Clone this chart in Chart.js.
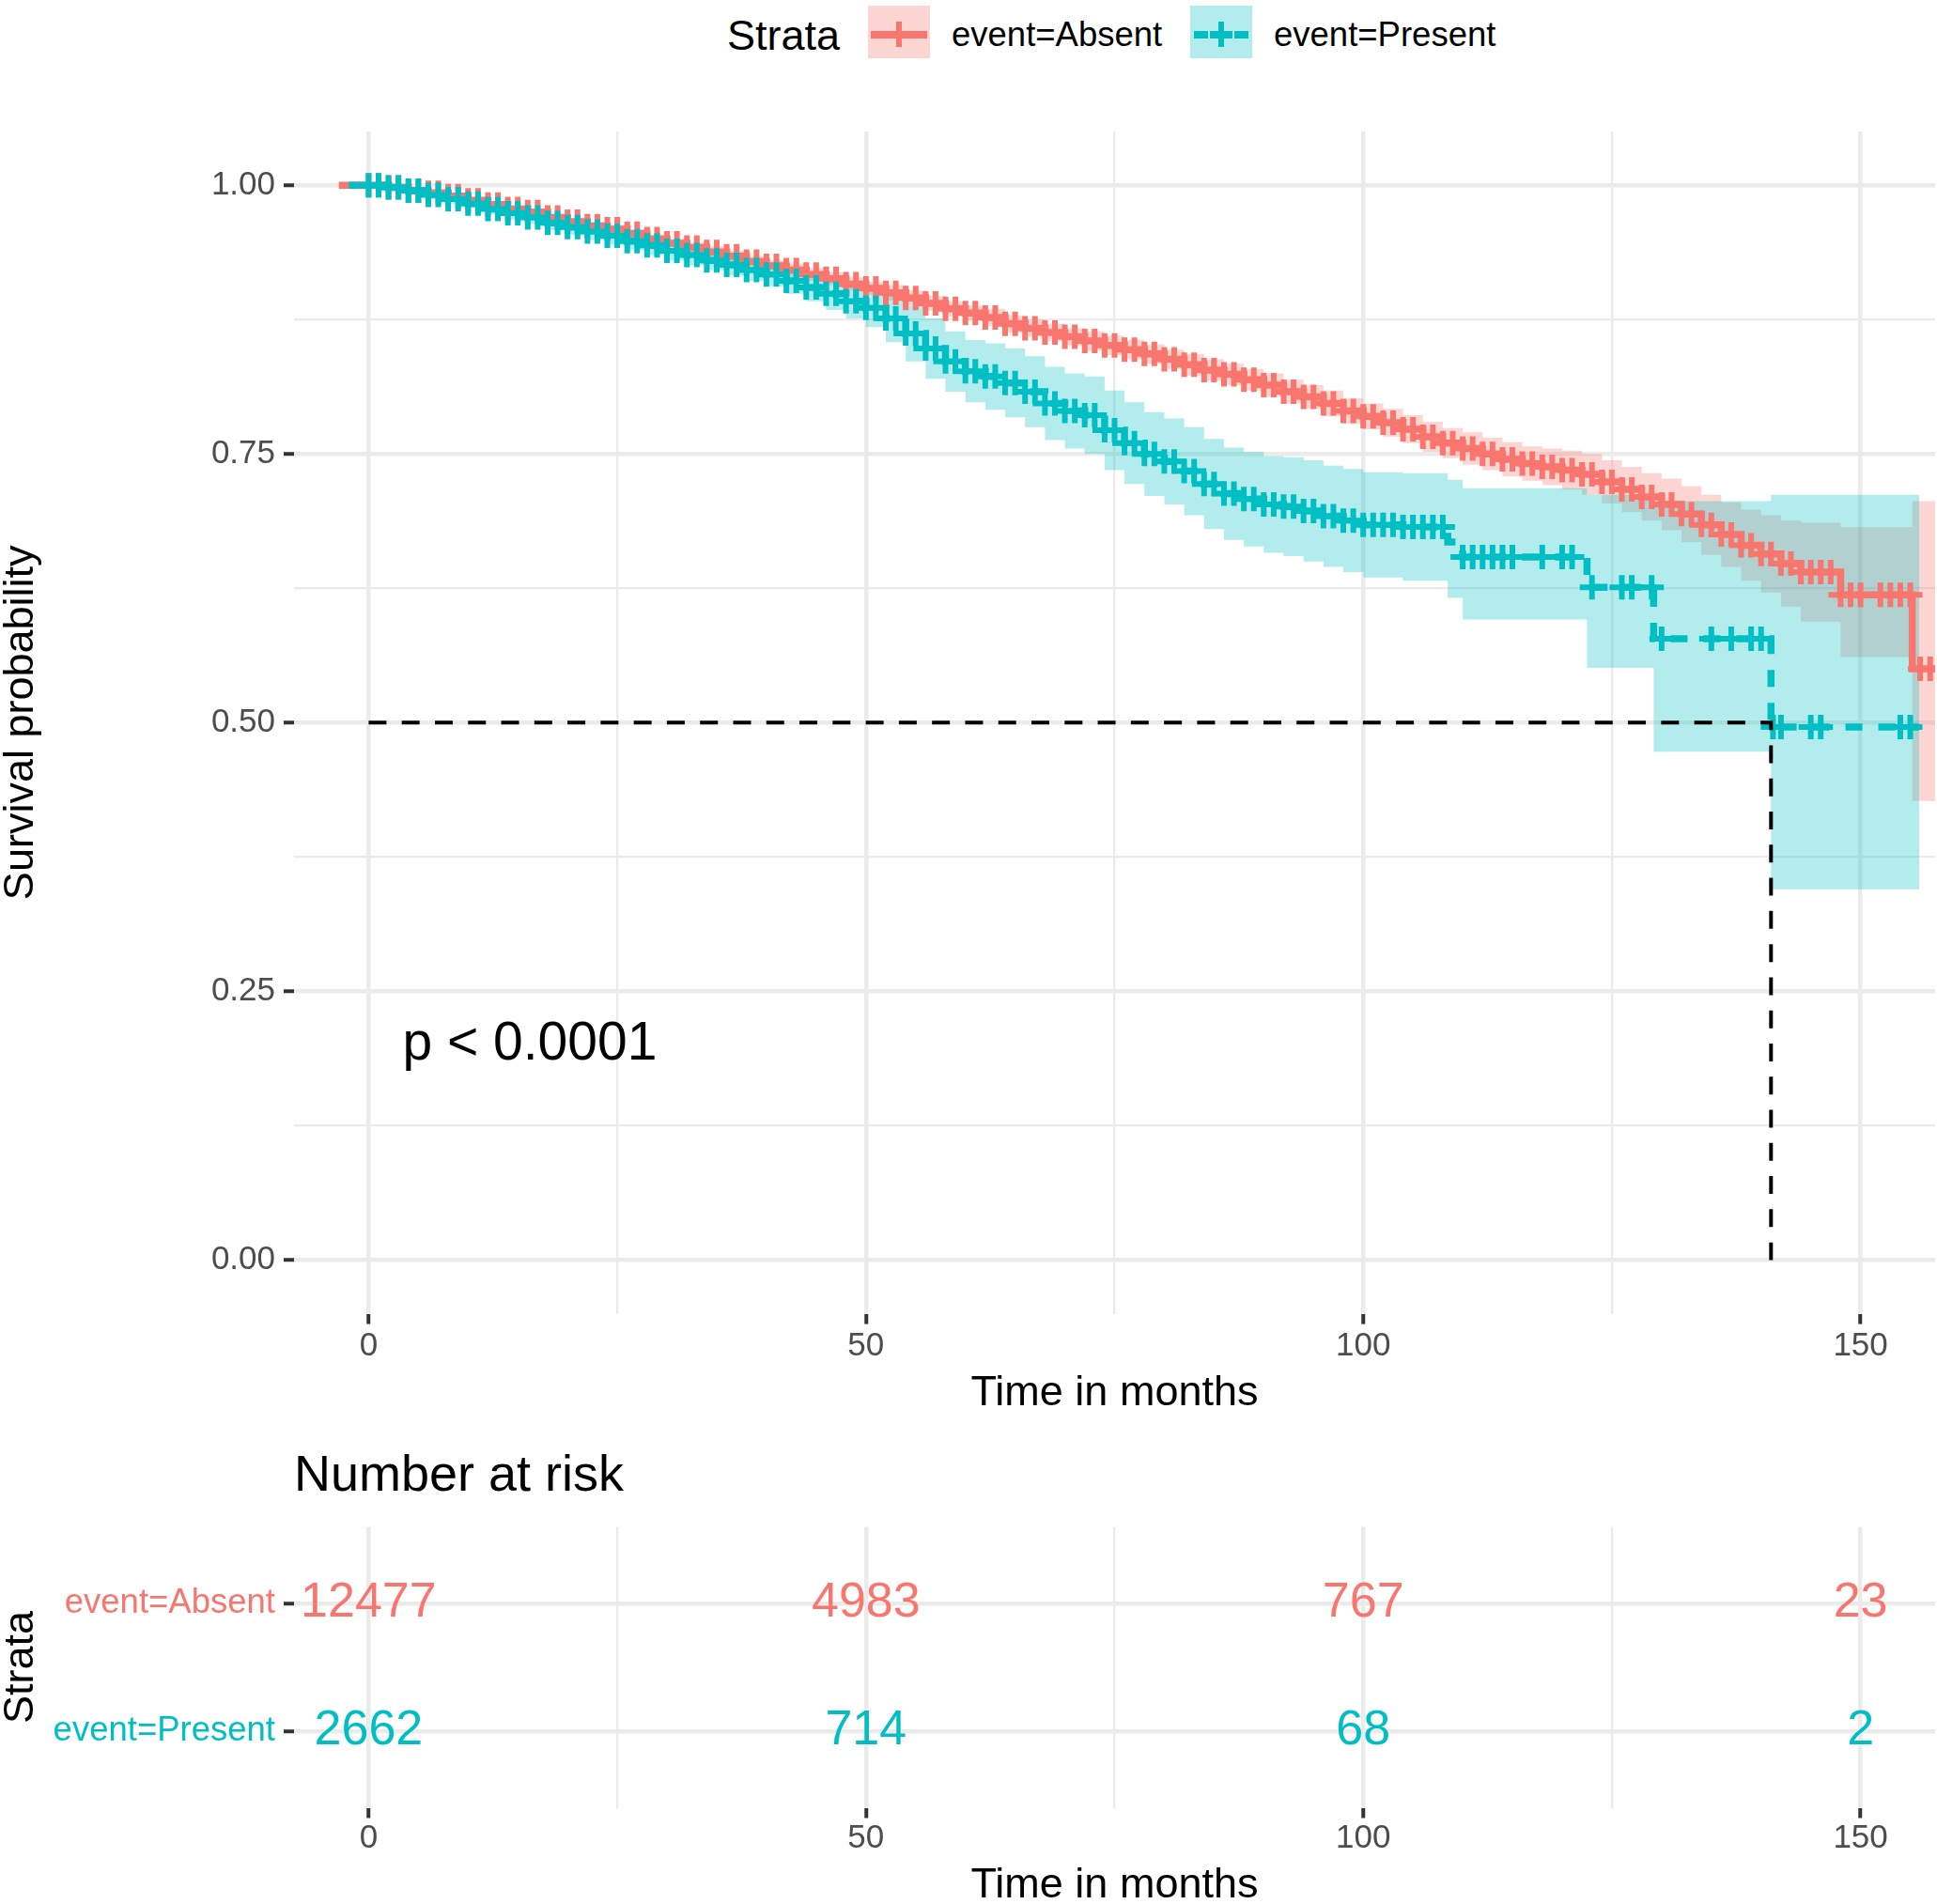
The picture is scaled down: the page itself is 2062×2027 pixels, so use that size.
<!DOCTYPE html>
<html>
<head>
<meta charset="utf-8">
<script src="https://cdn.jsdelivr.net/npm/chart.js@4.4.0/dist/chart.umd.min.js"></script>
<style>
  body { margin: 0; background: #fff; width: 2062px; height: 2027px; overflow: hidden; position: relative;
         font-family: "Liberation Sans", Arial, sans-serif; }
  #survCanvas { position: absolute; left: 0; top: 0; }
  #riskCanvas { position: absolute; left: 0; top: 1506px; }
  .lg { position: absolute; white-space: nowrap; color: #000; }
  .key { position: absolute; top: 6px; width: 66px; height: 56px; }
  .key div { position: absolute; }
</style>
</head>
<body>
<div class="lg" style="left:774px; top:15px; font-size:45px; line-height:45px;">Strata</div>
<div class="key" style="left:924px; background:rgba(248,118,109,0.3);">
  <div style="left:3px; width:60px; top:27px; height:8px; background:#F8766D;"></div>
  <div style="left:30px; width:6px; top:17px; height:27px; background:#F8766D;"></div>
</div>
<div class="lg" style="left:1013px; top:19px; font-size:36.5px; line-height:36.5px;">event=Absent</div>
<div class="key" style="left:1267px; background:rgba(0,191,196,0.3);">
  <div style="left:4px; width:15px; top:27px; height:8px; background:#00BFC4;"></div>
  <div style="left:21px; width:24px; top:27px; height:8px; background:#00BFC4;"></div>
  <div style="left:30px; width:6px; top:17px; height:27px; background:#00BFC4;"></div>
  <div style="left:47px; width:15px; top:27px; height:8px; background:#00BFC4;"></div>
</div>
<div class="lg" style="left:1356px; top:19px; font-size:36.5px; line-height:36.5px;">event=Present</div>

<canvas id="survCanvas" width="2062" height="1506"></canvas>
<canvas id="riskCanvas" width="2062" height="524"></canvas>

<script>
// ---- data ----
const absentTime = [-3, 0, 2, 4, 6, 8, 10, 12, 14, 16, 18, 20, 22, 24, 26, 28, 30, 32, 34, 36, 38, 40,
  42, 44, 46, 48, 50, 52, 54, 56, 58, 60, 62, 64, 66, 68, 70, 72, 74, 76, 78, 80, 82, 84, 86, 88, 90,
  92, 94, 96, 98, 100, 102, 104, 106, 108, 110, 112, 114, 116, 118, 120, 122, 124, 126, 128, 130, 132,
  134, 136, 138, 140, 142, 144, 148, 155.2, 157.5]
const absentSurv = [1, 1, 0.998, 0.995, 0.993, 0.990, 0.986, 0.982, 0.978, 0.975, 0.970, 0.966, 0.962,
  0.959, 0.955, 0.950, 0.946, 0.942, 0.938, 0.934, 0.929, 0.925, 0.921, 0.917, 0.913, 0.908, 0.904,
  0.900, 0.895, 0.890, 0.885, 0.881, 0.877, 0.871, 0.867, 0.863, 0.859, 0.855, 0.851, 0.847, 0.843,
  0.838, 0.833, 0.828, 0.824, 0.819, 0.814, 0.808, 0.803, 0.797, 0.790, 0.785, 0.779, 0.773, 0.766,
  0.760, 0.755, 0.750, 0.745, 0.741, 0.738, 0.735, 0.731, 0.724, 0.717, 0.710, 0.703, 0.694, 0.684,
  0.675, 0.665, 0.657, 0.648, 0.640, 0.619, 0.550, 0.550]
const absentLower = [1, 0.999, 0.996, 0.993, 0.991, 0.988, 0.984, 0.979, 0.975, 0.972, 0.967, 0.963,
  0.958, 0.955, 0.951, 0.946, 0.942, 0.937, 0.933, 0.929, 0.924, 0.920, 0.915, 0.911, 0.907, 0.902,
  0.898, 0.893, 0.888, 0.883, 0.878, 0.874, 0.869, 0.863, 0.859, 0.855, 0.851, 0.846, 0.842, 0.838,
  0.834, 0.829, 0.823, 0.818, 0.814, 0.809, 0.803, 0.797, 0.792, 0.785, 0.778, 0.773, 0.766, 0.760,
  0.752, 0.746, 0.740, 0.735, 0.729, 0.725, 0.721, 0.717, 0.712, 0.704, 0.696, 0.688, 0.679, 0.668,
  0.656, 0.645, 0.632, 0.621, 0.608, 0.594, 0.561, 0.427, 0.427]
const absentUpper = [1, 1, 1, 0.997, 0.995, 0.992, 0.988, 0.985, 0.981, 0.978, 0.973, 0.969, 0.966,
  0.963, 0.959, 0.954, 0.950, 0.947, 0.943, 0.939, 0.934, 0.930, 0.927, 0.923, 0.919, 0.914, 0.910,
  0.907, 0.902, 0.897, 0.892, 0.888, 0.885, 0.879, 0.875, 0.871, 0.867, 0.864, 0.860, 0.856, 0.852,
  0.847, 0.843, 0.838, 0.834, 0.829, 0.825, 0.819, 0.814, 0.809, 0.802, 0.797, 0.792, 0.786, 0.780,
  0.774, 0.770, 0.765, 0.761, 0.757, 0.755, 0.753, 0.750, 0.744, 0.738, 0.732, 0.727, 0.720, 0.712,
  0.705, 0.698, 0.693, 0.688, 0.686, 0.682, 0.706, 0.706]
const absentCensor = [
  0, 1, 2, 3, 4, 5, 6, 7, 8, 9, 10, 11, 12, 13, 14, 15, 16, 17, 18, 19, 20, 21, 22, 23, 24, 25, 26, 27, 28, 29,
  30, 31, 32, 33, 34, 35, 36, 37, 38, 39, 40, 41, 42, 43, 44, 45, 46, 47, 48, 49, 50, 51, 52, 53, 54, 55, 56, 57, 58, 59,
  60, 61, 62, 63, 64, 65, 66, 67, 68, 69, 70, 71, 72, 73, 74, 75, 76, 77, 78, 79, 80, 81, 82, 83, 84, 85, 86, 87, 88, 89,
  90, 91, 92, 93, 94, 95, 96, 97, 98, 99, 100, 101, 102, 103, 104, 105, 106, 107, 108, 109, 110, 111, 112, 113, 114, 115,
  116, 117, 118, 119, 120, 121, 122, 123, 124, 125, 126, 127, 128, 129, 130, 131, 132, 133, 134, 135, 136, 137, 138, 139,
  140, 141, 142, 143, 144, 145, 146, 147, 148, 149, 150, 152, 153, 154, 155, 156, 157]

const presentTime = [-2, 0, 2, 4, 6, 8, 10, 12, 14, 16, 18, 20, 22, 24, 26, 28, 30, 32, 34, 36, 38, 40,
  42, 44, 46, 48, 50, 52, 54, 56, 58, 60, 62, 64, 66, 68, 70, 72, 74, 76, 78, 80, 82, 84, 86, 88, 90,
  92, 94, 96, 98, 100, 104, 108.5, 110, 122.5, 129.2, 141, 155.9]
const presentSurv = [1, 1, 0.998, 0.995, 0.991, 0.987, 0.983, 0.978, 0.974, 0.970, 0.965, 0.961, 0.957,
  0.953, 0.948, 0.944, 0.939, 0.935, 0.930, 0.926, 0.921, 0.917, 0.911, 0.905, 0.899, 0.892, 0.886,
  0.876, 0.862, 0.848, 0.836, 0.827, 0.822, 0.816, 0.808, 0.797, 0.790, 0.786, 0.772, 0.760, 0.750,
  0.743, 0.734, 0.722, 0.713, 0.708, 0.703, 0.701, 0.697, 0.692, 0.688, 0.684, 0.682, 0.668, 0.654,
  0.626, 0.578, 0.496, 0.496]
const presentLower = [1, 0.999, 0.996, 0.992, 0.987, 0.983, 0.979, 0.973, 0.968, 0.964, 0.958, 0.954,
  0.949, 0.945, 0.940, 0.935, 0.930, 0.926, 0.921, 0.916, 0.911, 0.906, 0.899, 0.892, 0.884, 0.876,
  0.868, 0.854, 0.836, 0.820, 0.808, 0.798, 0.791, 0.784, 0.775, 0.763, 0.755, 0.750, 0.735, 0.722,
  0.711, 0.703, 0.693, 0.680, 0.670, 0.664, 0.658, 0.655, 0.650, 0.645, 0.640, 0.635, 0.632, 0.616,
  0.596, 0.551, 0.473, 0.345, 0.345]
const presentUpper = [1, 1, 1, 0.998, 0.995, 0.991, 0.987, 0.983, 0.980, 0.976, 0.972, 0.968, 0.965,
  0.961, 0.956, 0.953, 0.948, 0.944, 0.939, 0.936, 0.931, 0.928, 0.923, 0.918, 0.914, 0.908, 0.904,
  0.898, 0.888, 0.876, 0.864, 0.856, 0.853, 0.848, 0.841, 0.831, 0.825, 0.822, 0.809, 0.798, 0.789,
  0.783, 0.775, 0.764, 0.756, 0.752, 0.748, 0.747, 0.744, 0.739, 0.736, 0.733, 0.732, 0.726, 0.718,
  0.712, 0.706, 0.712, 0.712]
const presentCensor = [
  0, 1, 2, 3, 4, 5, 6, 7, 8, 9, 10, 11, 12, 13, 14, 15, 16, 17, 18, 19, 20, 21, 22, 23, 24, 25, 26, 27, 28, 29,
  30, 31, 32, 33, 34, 35, 36, 37, 38, 39, 40, 41, 42, 43, 44, 45, 46, 47, 48, 49, 50, 51, 52, 53, 54, 55, 56, 57, 58, 59,
  60, 61, 62, 63, 64, 65, 66, 67, 68, 69, 70, 71, 72, 73, 74, 75, 76, 77, 78, 79, 80, 81, 82, 83, 84, 85, 86, 87, 88, 89,
  90, 91, 92, 93, 94, 95, 96, 97, 98, 99, 100, 101, 102, 103, 104, 105, 106, 107, 108,
  110, 111, 112, 113, 114, 115, 118, 120, 121, 123, 126, 127, 129, 130, 135, 137, 139, 140, 141.2, 142, 145, 146, 154, 155]

const medianTime = 141
const medianSurv = 0.5
const pValueText = 'p < 0.0001'

const strata = ['event=Absent', 'event=Present']
const riskTimes = [0, 50, 100, 150]
const riskAbsent = [12477, 4983, 767, 23]
const riskPresent = [2662, 714, 68, 2]

const xMajor = [0, 50, 100, 150]
const xMinor = [25, 75, 125]
const yMajor = [0, 0.25, 0.5, 0.75, 1]
const yMinor = [0.125, 0.375, 0.625, 0.875]

// ---- styling ----
const RED = '#F8766D'
const CYAN = '#00BFC4'
const strataColors = [RED, CYAN]
const FONT = '"Liberation Sans", Arial, sans-serif'
Chart.defaults.font.family = FONT

function pts(ts, vs) {
    return ts.map((t, i) => ({x: t, y: vs[i]}))
}

// value of a step curve at time t
function survAt(ts, vs, t) {
    let v = vs[0]
    for (let i = 0; i < ts.length; i++) {
        if (ts[i] <= t) v = vs[i]
    }
    return v
}

function isMinor(list, c) {
    return c.tick && list.includes(c.tick.value)
}

function xScale(height, pad) {
    return {
        type: 'linear', min: -7.5, max: 157.5, bounds: 'data',
        border: {display: false},
        afterBuildTicks: s => { s.ticks = xMajor.concat(xMinor).sort((a, b) => a - b).map(v => ({value: v})) },
        afterFit: s => { s.height = height },
        ticks: {
            autoSkip: false, maxRotation: 0, padding: pad, color: '#4D4D4D', font: {size: 35},
            callback: v => xMajor.includes(v) ? String(v) : ''
        },
        grid: {
            color: '#EBEBEB',
            lineWidth: c => isMinor(xMinor, c) ? 2.3 : 4.5,
            tickColor: c => isMinor(xMinor, c) ? 'rgba(0,0,0,0)' : '#333333',
            tickLength: 11, tickWidth: 4
        },
        title: {display: true, text: 'Time in months', color: '#000', font: {size: 45, lineHeight: 1}, padding: 0}
    }
}

const pValuePlugin = {
    id: 'pvalue',
    afterDatasetsDraw(chart) {
        const {ctx, scales} = chart
        ctx.save()
        ctx.font = '57px ' + FONT
        ctx.fillStyle = '#000'
        ctx.textAlign = 'left'
        ctx.textBaseline = 'middle'
        ctx.fillText(pValueText, scales.x.getPixelForValue(3.4), scales.y.getPixelForValue(0.2))
        ctx.restore()
    }
}

new Chart(document.getElementById('survCanvas'), {
    type: 'line',
    data: {
        datasets: [
            {data: pts(absentTime, absentUpper), stepped: true, borderWidth: 0, borderColor: 'transparent',
                pointRadius: 0, fill: false, order: 60},
            {data: pts(absentTime, absentLower), stepped: true, borderWidth: 0, borderColor: 'transparent',
                pointRadius: 0, fill: '-1', backgroundColor: 'rgba(248,118,109,0.3)', order: 60},
            {data: pts(presentTime, presentUpper), stepped: true, borderWidth: 0, borderColor: 'transparent',
                pointRadius: 0, fill: false, order: 50},
            {data: pts(presentTime, presentLower), stepped: true, borderWidth: 0, borderColor: 'transparent',
                pointRadius: 0, fill: '-1', backgroundColor: 'rgba(0,191,196,0.3)', order: 50},
            {data: pts(absentTime, absentSurv), stepped: true, borderColor: RED, borderWidth: 7.5,
                pointRadius: 0, fill: false, order: 40},
            {data: pts(presentTime, presentSurv), stepped: true, borderColor: CYAN, borderWidth: 7.5,
                borderDash: [18, 17], pointRadius: 0, fill: false, order: 30},
            {type: 'scatter', data: absentCensor.map(t => ({x: t, y: survAt(absentTime, absentSurv, t)})),
                pointStyle: 'cross', pointRadius: 13, borderColor: RED, pointBorderColor: RED,
                borderWidth: 6, pointBorderWidth: 6, order: 20},
            {type: 'scatter', data: presentCensor.map(t => ({x: t, y: survAt(presentTime, presentSurv, t)})),
                pointStyle: 'cross', pointRadius: 13, borderColor: CYAN, pointBorderColor: CYAN,
                borderWidth: 6, pointBorderWidth: 6, order: 10},
            {data: [{x: 0, y: medianSurv}, {x: medianTime, y: medianSurv}, {x: medianTime, y: 0}],
                borderColor: '#000', borderWidth: 4, borderDash: [19, 16.28], pointRadius: 0, fill: false, order: 5}
        ]
    },
    options: {
        responsive: false,
        animation: false,
        events: [],
        layout: {autoPadding: false, padding: {top: 140, right: 2, left: 0, bottom: 0}},
        plugins: {legend: {display: false}, tooltip: {enabled: false}},
        scales: {
            x: xScale(107.4, 2.5),
            y: {
                type: 'linear', min: -0.05, max: 1.05, bounds: 'data',
                border: {display: false},
                afterBuildTicks: s => { s.ticks = yMajor.concat(yMinor).sort((a, b) => a - b).map(v => ({value: v})) },
                afterFit: s => { s.width = 313 },
                ticks: {
                    autoSkip: false, padding: 9, color: '#4D4D4D', font: {size: 35},
                    callback: v => yMajor.includes(v) ? v.toFixed(2) : ''
                },
                grid: {
                    color: '#EBEBEB',
                    lineWidth: c => isMinor(yMinor, c) ? 2.3 : 4.5,
                    tickColor: c => isMinor(yMinor, c) ? 'rgba(0,0,0,0)' : '#333333',
                    tickLength: 11, tickWidth: 4
                },
                title: {display: true, text: 'Survival probability', color: '#000', font: {size: 45, lineHeight: 1}, padding: 0}
            }
        }
    },
    plugins: [pValuePlugin]
})

// ---- number at risk table ----
const riskPlugin = {
    id: 'riskText',
    afterDatasetsDraw(chart) {
        const {ctx, scales, chartArea} = chart
        ctx.save()
        ctx.textAlign = 'center'
        ctx.textBaseline = 'middle'
        ctx.font = '52px ' + FONT
        const rows = [riskAbsent, riskPresent]
        rows.forEach((row, r) => {
            ctx.fillStyle = strataColors[r]
            riskTimes.forEach((t, i) => {
                ctx.fillText(String(row[i]), scales.x.getPixelForValue(t), scales.y.getPixelForValue(r + 1))
            })
        })
        // table title
        ctx.textAlign = 'left'
        ctx.fillStyle = '#000'
        ctx.font = '54px ' + FONT
        ctx.fillText('Number at risk', chartArea.left, 66)
        ctx.restore()
    }
}

new Chart(document.getElementById('riskCanvas'), {
    type: 'scatter',
    data: {
        datasets: [
            {data: riskTimes.map(t => ({x: t, y: 1})), pointRadius: 0},
            {data: riskTimes.map(t => ({x: t, y: 2})), pointRadius: 0}
        ]
    },
    options: {
        responsive: false,
        animation: false,
        events: [],
        layout: {autoPadding: false, padding: {top: 119.5, right: 2, left: 0, bottom: 0}},
        plugins: {legend: {display: false}, tooltip: {enabled: false}},
        scales: {
            x: xScale(105.5, 0.5),
            y: {
                type: 'linear', min: 0.4, max: 2.6, reverse: true, bounds: 'data',
                border: {display: false},
                afterBuildTicks: s => { s.ticks = [1, 2].map(v => ({value: v})) },
                afterFit: s => { s.width = 313 },
                ticks: {
                    autoSkip: false, padding: 9, font: {size: 36.5},
                    color: c => strataColors[c.index],
                    callback: v => strata[v - 1]
                },
                grid: {color: '#EBEBEB', lineWidth: 4.5, tickColor: '#333333', tickLength: 11, tickWidth: 4},
                title: {display: true, text: 'Strata', color: '#000', font: {size: 45, lineHeight: 1}, padding: 0}
            }
        }
    },
    plugins: [riskPlugin]
})
</script>
</body>
</html>
